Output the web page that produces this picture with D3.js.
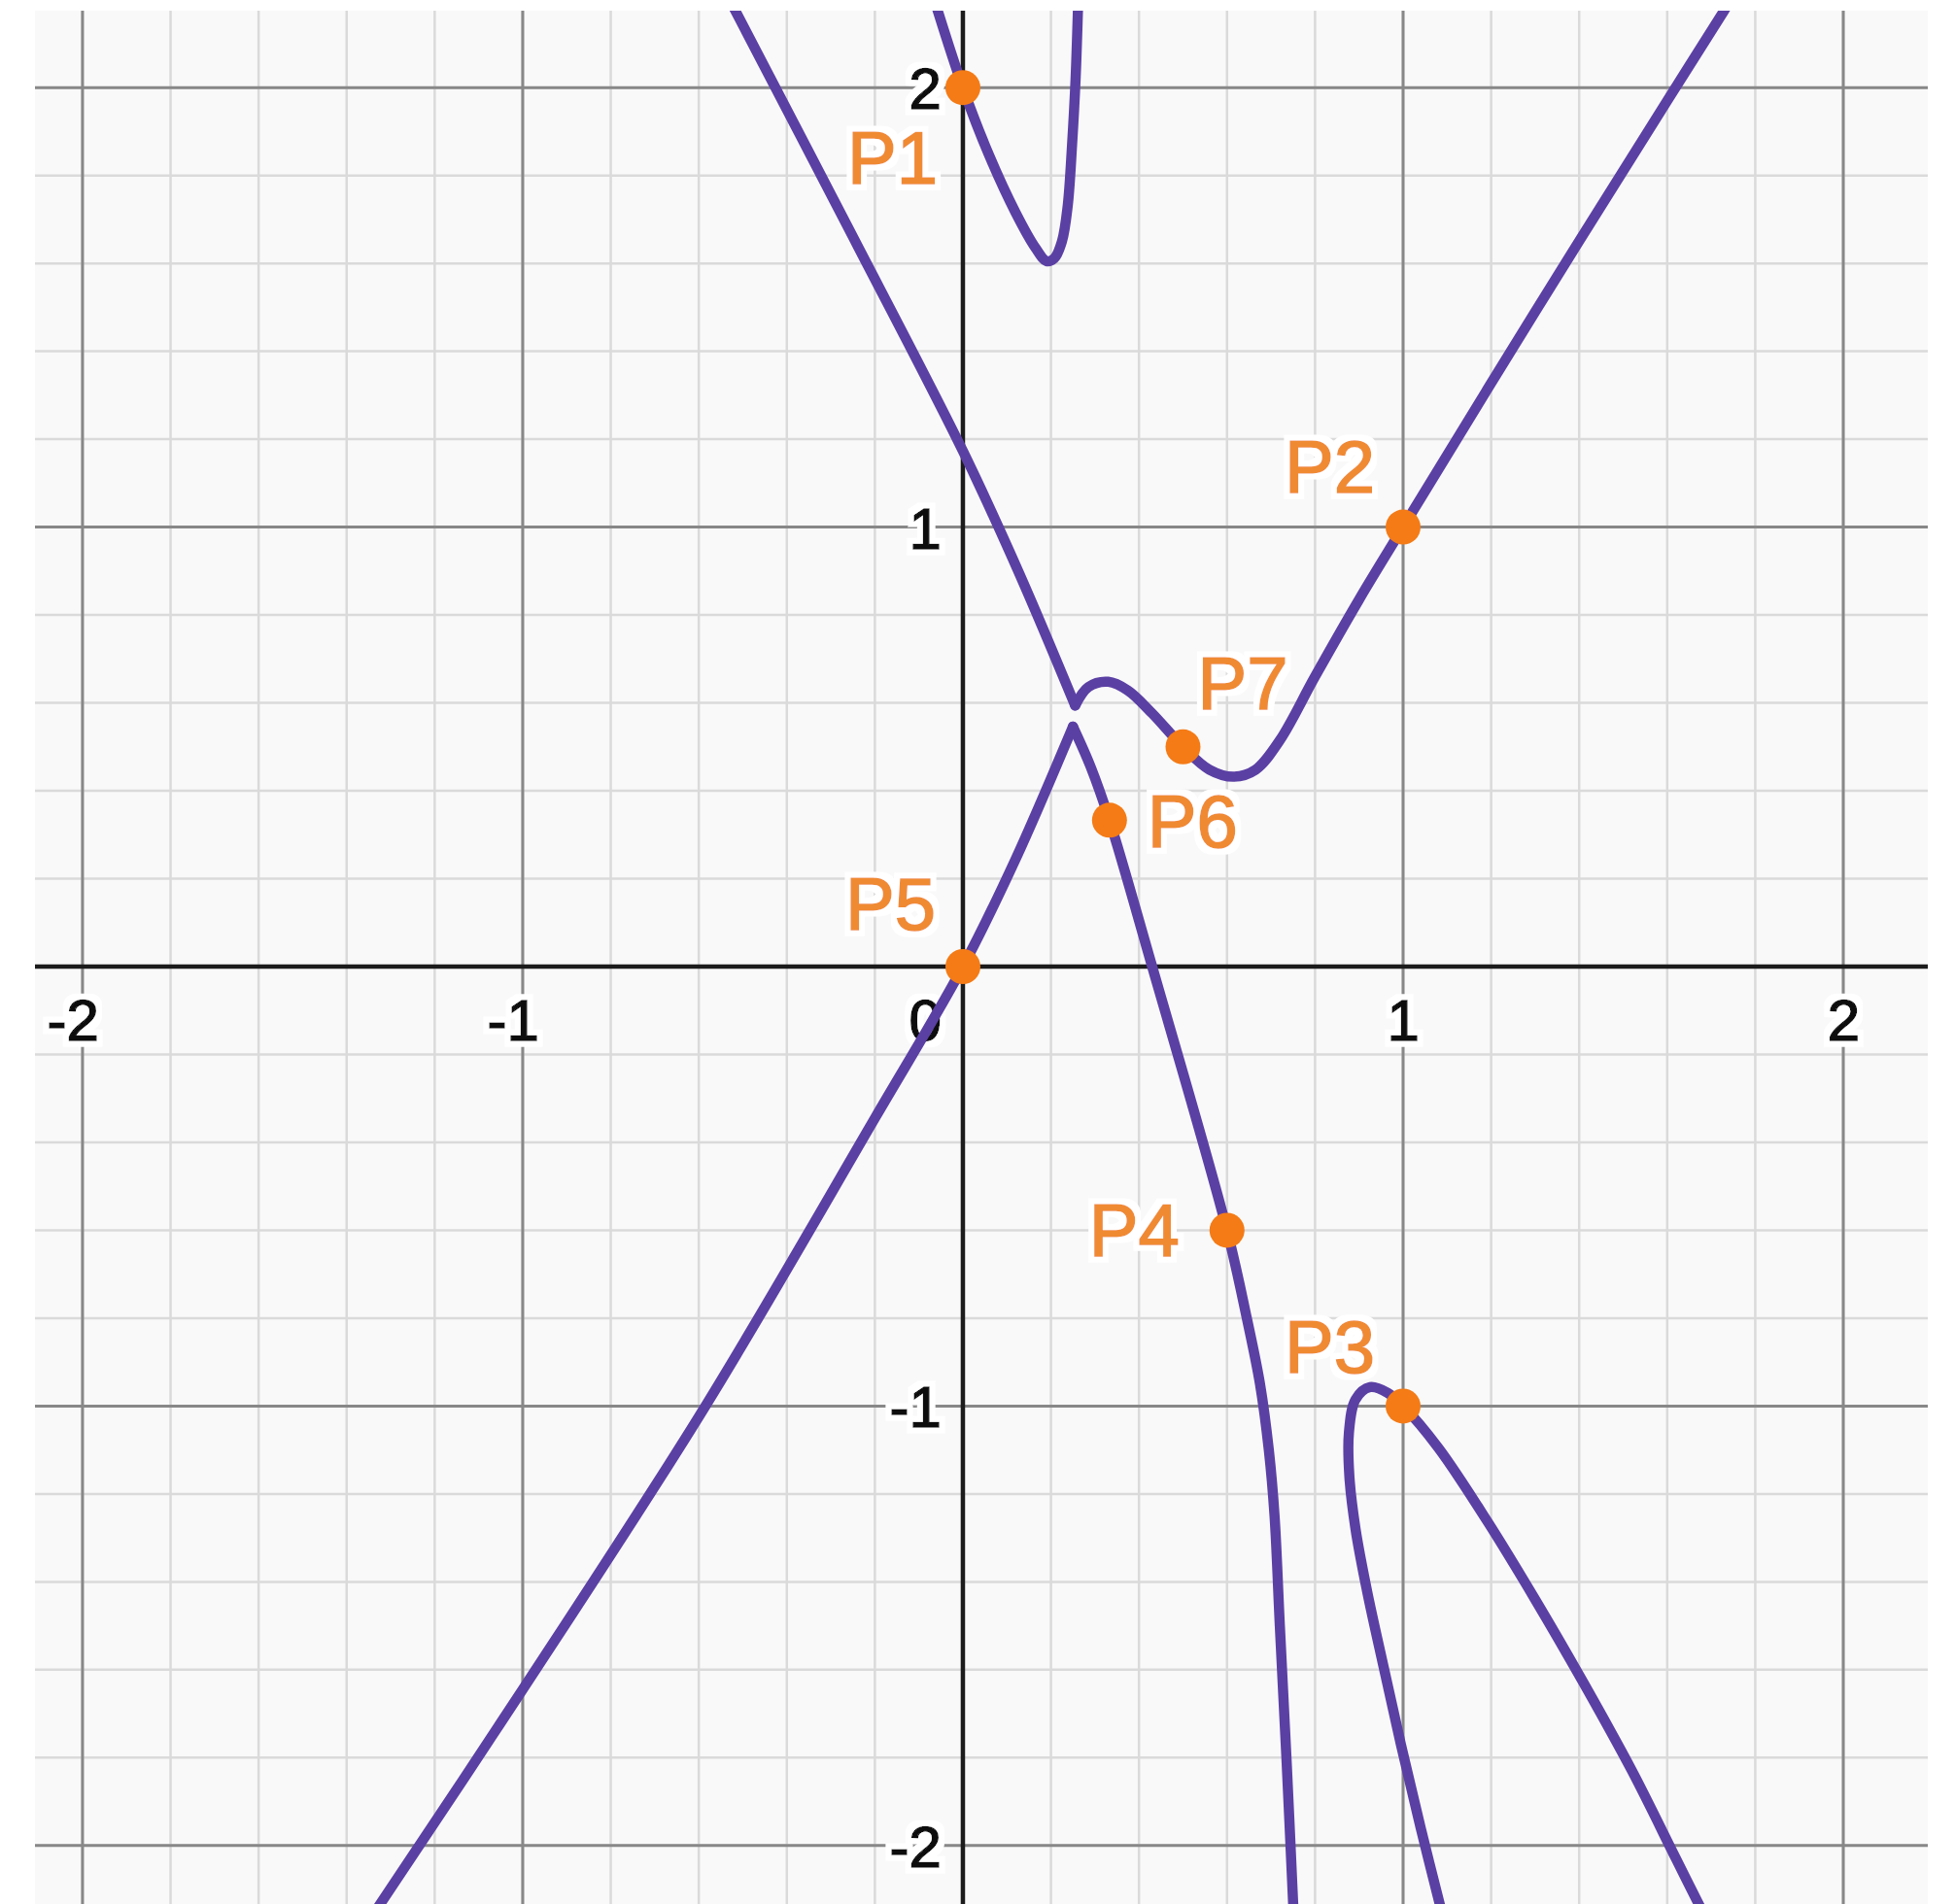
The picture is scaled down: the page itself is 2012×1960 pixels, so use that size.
<!DOCTYPE html>
<html>
<head>
<meta charset="utf-8">
<script src="https://cdn.jsdelivr.net/npm/d3@7"></script>
<style>
  body { margin: 0; background: #fff; }
  text { font-family: Arial, "Liberation Sans", sans-serif; }
</style>
</head>
<body>
<script>
const width = 2012;
const height = 1960;

// tick labels on the axes
const xTickLabels = [-2, -1, 1, 2];
const yTickLabels = [-2, -1, 1, 2];

// curve branches as [x, y]
// upper branch, left of the cusp
const branchA1 = [[-0.53, 2.2], [-0.26, 1.68], [0, 1.173], [0.13, 0.89], [0.255, 0.594]];
// upper branch, right of the cusp
const branchA2 = [[0.255, 0.594], [0.285, 0.636], [0.33, 0.648], [0.375, 0.628], [0.43, 0.576],
  [0.5, 0.5], [0.56, 0.448], [0.615, 0.432], [0.665, 0.448], [0.72, 0.515], [0.8, 0.66],
  [0.9, 0.835], [1, 1], [1.3, 1.49], [1.6, 1.97], [1.745, 2.2]];
// lower branch, up to the peak
const branchB1 = [[-1.345, -2.165], [-1.0, -1.645], [-0.585, -1.0], [-0.2, -0.345], [0, 0],
  [0.12, 0.245], [0.25, 0.546]];
// lower branch, down from the peak
const branchB2 = [[0.25, 0.546], [0.29, 0.455], [0.333, 0.333], [0.43, 0.0], [0.6, -0.6],
  [0.645, -0.8], [0.675, -0.95], [0.695, -1.1], [0.708, -1.25], [0.72, -1.5], [0.735, -1.8],
  [0.752, -2.17]];
// small U at the top
const branchC = [[-0.065, 2.2], [0, 2.0], [0.06, 1.845], [0.12, 1.715], [0.165, 1.635],
  [0.19, 1.605], [0.208, 1.612], [0.225, 1.65], [0.238, 1.73], [0.248, 1.87], [0.256, 2.02],
  [0.262, 2.2]];
// hook at the bottom right
const branchD = [[1.09, -2.16], [1.04, -1.96], [0.995, -1.77], [0.955, -1.59], [0.918, -1.42],
  [0.892, -1.28], [0.878, -1.16], [0.877, -1.06], [0.892, -0.985], [0.925, -0.957], [0.965, -0.97],
  [1, -1], [1.08, -1.095], [1.19, -1.26], [1.3, -1.44], [1.41, -1.63], [1.52, -1.83],
  [1.62, -2.03], [1.69, -2.17]];

const branches = [branchA1, branchA2, branchB1, branchB2, branchC, branchD];

// marked points
const pointNames = ["P1", "P2", "P3", "P4", "P5", "P6", "P7"];
const pointX = [0, 1, 1, 0.6, 0, 0.333, 0.5];
const pointY = [2, 1, -1, -0.6, 0, 0.333, 0.5];

// label placement (pixel offsets from the dot)
const labelOffset = {
  P1: [-119, 99], P2: [-122, -36], P3: [-122, -34], P4: [-142, 27],
  P5: [-121, -38], P6: [39, 28], P7: [15, -39]
};

const plotLeft = 36, plotRight = 1984, plotTop = 11, plotBottom = 1960;

const x = d3.scaleLinear().domain([-2.108, 2.192]).range([plotLeft, plotRight]);
const y = d3.scaleLinear().domain([-2.133, 2.175]).range([plotBottom, plotTop]);

const svg = d3.select("body")
  .append("svg")
  .attr("width", width)
  .attr("height", height);

const defs = svg.append("defs");
defs.append("clipPath").attr("id", "plot")
  .append("rect")
  .attr("x", plotLeft).attr("y", plotTop)
  .attr("width", plotRight - plotLeft).attr("height", plotBottom - plotTop);

// white halo behind labels
const halo = defs.append("filter").attr("id", "halo")
  .attr("x", "-20%").attr("y", "-20%").attr("width", "140%").attr("height", "140%");
halo.append("feMorphology").attr("in", "SourceAlpha")
  .attr("operator", "dilate").attr("radius", 6).attr("result", "grow");
halo.append("feFlood").attr("flood-color", "#fff");
halo.append("feComposite").attr("in2", "grow").attr("operator", "in").attr("result", "bg");
const merge = halo.append("feMerge");
merge.append("feMergeNode").attr("in", "bg");
merge.append("feMergeNode").attr("in", "SourceGraphic");

svg.append("rect")
  .attr("x", plotLeft).attr("y", plotTop)
  .attr("width", plotRight - plotLeft).attr("height", plotBottom - plotTop)
  .attr("fill", "#f9f9f9");

const g = svg.append("g").attr("clip-path", "url(#plot)");

const [x0, x1] = x.domain();
const [y0, y1] = y.domain();
const minor = d3.range(-15, 16).map(i => i / 5);
const major = d3.range(-3, 4);

// minor grid
g.selectAll(".vminor").data(minor.filter(v => v >= x0 && v <= x1))
  .join("line")
  .attr("x1", d => x(d)).attr("x2", d => x(d))
  .attr("y1", plotTop).attr("y2", plotBottom)
  .attr("stroke", "#dadada").attr("stroke-width", 2.5);
g.selectAll(".hminor").data(minor.filter(v => v >= y0 && v <= y1))
  .join("line")
  .attr("y1", d => y(d)).attr("y2", d => y(d))
  .attr("x1", plotLeft).attr("x2", plotRight)
  .attr("stroke", "#dadada").attr("stroke-width", 2.5);

// major grid
g.selectAll(".vmajor").data(major.filter(v => v >= x0 && v <= x1 && v !== 0))
  .join("line")
  .attr("x1", d => x(d)).attr("x2", d => x(d))
  .attr("y1", plotTop).attr("y2", plotBottom)
  .attr("stroke", "#888").attr("stroke-width", 3);
g.selectAll(".hmajor").data(major.filter(v => v >= y0 && v <= y1 && v !== 0))
  .join("line")
  .attr("y1", d => y(d)).attr("y2", d => y(d))
  .attr("x1", plotLeft).attr("x2", plotRight)
  .attr("stroke", "#888").attr("stroke-width", 3);

// axes
g.append("line")
  .attr("x1", plotLeft).attr("x2", plotRight)
  .attr("y1", y(0)).attr("y2", y(0))
  .attr("stroke", "#1c1c1c").attr("stroke-width", 4.5);
g.append("line")
  .attr("x1", x(0)).attr("x2", x(0))
  .attr("y1", plotTop).attr("y2", plotBottom)
  .attr("stroke", "#1c1c1c").attr("stroke-width", 4.5);

const fmt = d => d < 0 ? "-" + Math.abs(d) : String(d);

const tickText = sel => sel
  .attr("text-anchor", "end")
  .attr("font-size", 60)
  .attr("fill", "#111")
  .attr("stroke", "#111").attr("stroke-width", 1.6)
  .attr("filter", "url(#halo)")
  .text(fmt);

// x tick labels: digit centred on the tick
g.selectAll(".xlab").data(xTickLabels)
  .join("text")
  .attr("class", "xlab")
  .attr("x", d => x(d) + 17)
  .attr("y", y(0) + 76)
  .call(tickText);

// y tick labels
g.selectAll(".ylab").data(yTickLabels)
  .join("text")
  .attr("class", "ylab")
  .attr("x", x(0) - 22)
  .attr("y", d => y(d) + 22)
  .call(tickText);

// shared origin label
g.selectAll(".zlab").data([0])
  .join("text")
  .attr("class", "zlab")
  .attr("x", x(0) - 22)
  .attr("y", y(0) + 76)
  .call(tickText);

// curve
const line = d3.line()
  .x(d => x(d[0]))
  .y(d => y(d[1]))
  .curve(d3.curveCatmullRom.alpha(0.5));

g.selectAll(".branch").data(branches)
  .join("path")
  .attr("class", "branch")
  .attr("d", line)
  .attr("fill", "none")
  .attr("stroke", "#5b40a4")
  .attr("stroke-width", 10.5)
  .attr("stroke-linejoin", "round")
  .attr("stroke-linecap", "round");

// points and labels
const pts = pointNames.map((name, i) => ({ name, px: pointX[i], py: pointY[i] }));

g.selectAll(".dot").data(pts)
  .join("circle")
  .attr("class", "dot")
  .attr("cx", d => x(d.px))
  .attr("cy", d => y(d.py))
  .attr("r", 18)
  .attr("fill", "#f47b16");

g.selectAll(".plab").data(pts)
  .join("text")
  .attr("class", "plab")
  .attr("x", d => x(d.px) + labelOffset[d.name][0])
  .attr("y", d => y(d.py) + labelOffset[d.name][1])
  .attr("font-size", 76)
  .attr("fill", "#f08a33")
  .attr("stroke", "#f08a33").attr("stroke-width", 1.6)
  .attr("filter", "url(#halo)")
  .text(d => d.name);
</script>
</body>
</html>
